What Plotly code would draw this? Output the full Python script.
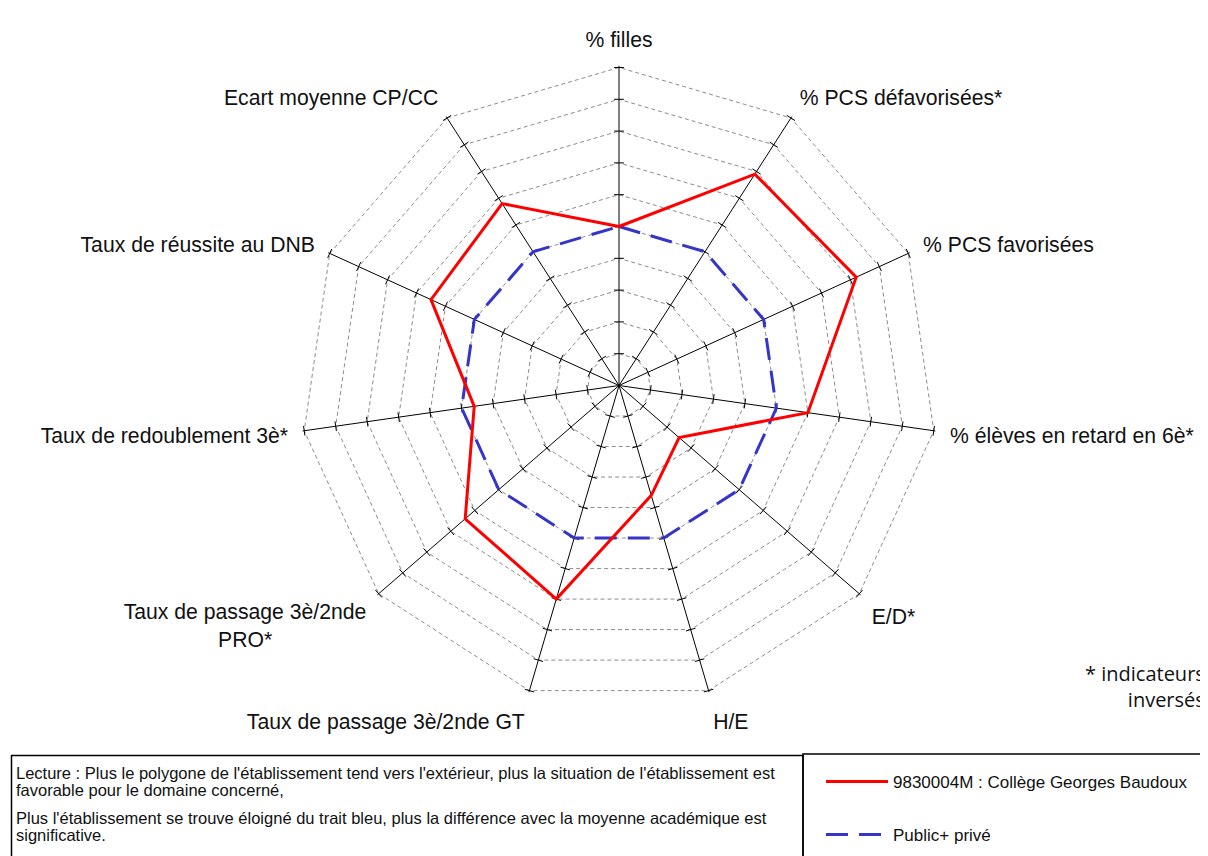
import plotly.graph_objects as go

# ---------------- data ----------------
categories = [
    "% filles",
    "% PCS défavorisées*",
    "% PCS favorisées",
    "% élèves en retard en 6è*",
    "E/D*",
    "H/E",
    "Taux de passage 3è/2nde GT",
    "Taux de passage 3è/2nde PRO*",
    "Taux de redoublement 3è*",
    "Taux de réussite au DNB",
    "Ecart moyenne CP/CC",
]
category_labels = [
    "% filles",
    "% PCS défavorisées*",
    "% PCS favorisées",
    "% élèves en retard en 6è*",
    "E/D*",
    "H/E",
    "Taux de passage 3è/2nde GT",
    "Taux de passage 3è/2nde<br>PRO*" + "\u00a0" * 16,
    "Taux de redoublement 3è*",
    "Taux de réussite au DNB",
    "Ecart moyenne CP/CC",
]
college_name = "9830004M : Collège Georges Baudoux"
college_values = [5.0, 7.9, 8.2, 6.0, 2.5, 3.6, 7.0, 6.4, 4.6, 6.5, 6.8]
academie_name = "Public+ privé"
academie_values = [5.0, 5.0, 5.0, 5.0, 5.0, 5.0, 5.0, 5.0, 5.0, 5.0, 5.0]
radial_ticks = [1, 2, 3, 4, 5, 6, 7, 8, 9, 10]

lecture_lines = [
    "Lecture : Plus le polygone de l'établissement tend vers l'extérieur, plus la situation de l'établissement est",
    "favorable pour le domaine concerné,",
    "Plus l'établissement se trouve éloigné du trait bleu, plus la différence avec la moyenne académique est",
    "significative.",
]
note_text = "* indicateurs<br>inversés"

# ---------------- figure ----------------
W, H = 1208, 856
OFF = 8  # page offset of the figure inside the browser window
FONT = "Liberation Sans, Arial, sans-serif"

def px_x(x):
    return (x - OFF) / W

def px_y(y):
    return 1 - (y - OFF) / H

# polar domain (screen pixels)
dom_cx, dom_cy, half = 619, 385.5, 319.6

fig = go.Figure()

# small tick marks across each spoke
n = len(categories)
tick_theta, tick_r, tick_angle = [], [], []
for i, c in enumerate(categories):
    for t in radial_ticks:
        tick_theta.append(c)
        tick_r.append(t)
        tick_angle.append(i * 360.0 / n)
fig.add_trace(go.Scatterpolar(
    r=tick_r, theta=tick_theta, mode="markers",
    marker=dict(symbol="line-ew", size=7, angle=tick_angle,
                line=dict(color="black", width=1)),
    showlegend=False, hoverinfo="skip",
))

fig.add_trace(go.Scatterpolar(
    r=academie_values + academie_values[:1],
    theta=categories + categories[:1],
    mode="lines", name=academie_name,
    line=dict(color="#3535c8", width=3, dash="22px,11px"),
    legend="legend2",
))
fig.add_trace(go.Scatterpolar(
    r=college_values + college_values[:1],
    theta=categories + categories[:1],
    mode="lines", name=college_name,
    line=dict(color="#ff0000", width=3),
    legend="legend",
))

fig.update_layout(
    width=W, height=H,
    margin=dict(l=0, r=0, t=0, b=0),
    paper_bgcolor="white",
    font=dict(family=FONT, color="#111111"),
    polar=dict(
        domain=dict(x=[px_x(dom_cx - half), px_x(dom_cx + half)],
                    y=[px_y(dom_cy + half), px_y(dom_cy - half)]),
        bgcolor="white",
        gridshape="linear",
        radialaxis=dict(range=[0, 10.05], tickvals=radial_ticks, showticklabels=False,
                        ticks="", showline=False, gridcolor="#8c8c8c", griddash="4px,3px",
                        gridwidth=1),
        angularaxis=dict(direction="clockwise", rotation=90, type="category",
                         categoryorder="array", categoryarray=categories,
                         tickvals=categories, ticktext=category_labels,
                         tickfont=dict(size=21.2, family=FONT, color="#111111"),
                         ticks="outside", ticklen=10, tickcolor="rgba(0,0,0,0)",
                         showline=False, gridcolor="black", gridwidth=1.3),
    ),
    showlegend=True,
    legend=dict(x=px_x(821), y=px_y(782), xanchor="left", yanchor="middle",
                itemwidth=62, bgcolor="rgba(0,0,0,0)",
                font=dict(size=17, family=FONT, color="#111111")),
    legend2=dict(x=px_x(821), y=px_y(835), xanchor="left", yanchor="middle",
                 itemwidth=62, bgcolor="rgba(0,0,0,0)",
                 font=dict(size=17, family=FONT, color="#111111")),
)

# boxes around reading note and legend
fig.add_shape(type="rect", xref="paper", yref="paper",
              x0=px_x(11.5), x1=px_x(803), y0=px_y(880), y1=px_y(755.5),
              line=dict(color="black", width=1.5), fillcolor="rgba(0,0,0,0)")
fig.add_shape(type="rect", xref="paper", yref="paper",
              x0=px_x(803), x1=px_x(1240), y0=px_y(880), y1=px_y(754),
              line=dict(color="black", width=1.5), fillcolor="rgba(0,0,0,0)")

for line_text, ly in zip(lecture_lines, [773, 790, 818, 835]):
    fig.add_annotation(xref="paper", yref="paper", x=px_x(14), y=px_y(ly),
                       xanchor="left", yanchor="middle",
                       text=line_text, showarrow=False, align="left",
                       font=dict(size=16.5, family=FONT, color="#111111"))

fig.add_annotation(xref="paper", yref="paper", x=px_x(1207), y=px_y(686),
                   xanchor="right", yanchor="middle",
                   text=note_text, showarrow=False, align="right",
                   font=dict(size=20, family="Open Sans, Lato, sans-serif", color="#111111"))

fig.write_html("out.html")
